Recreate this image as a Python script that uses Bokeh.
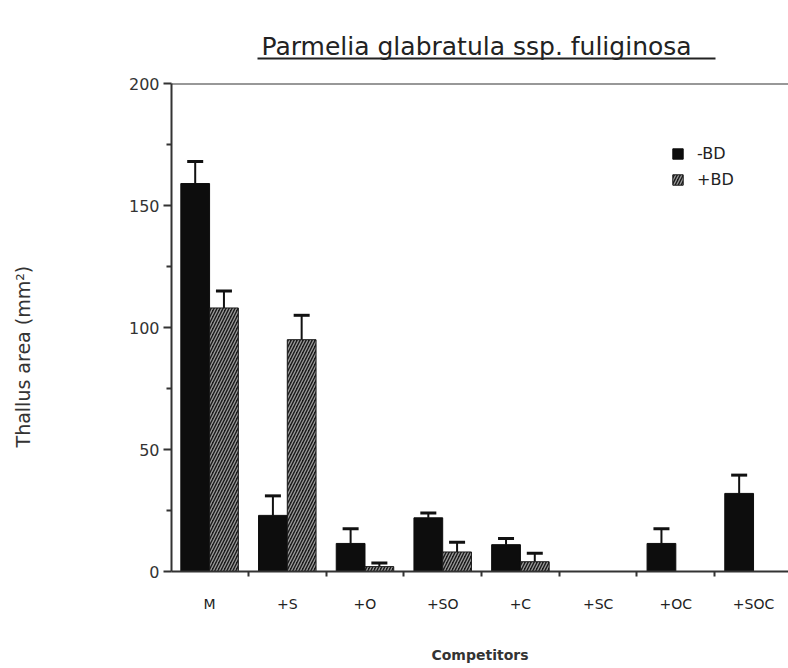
import numpy as np
from bokeh.plotting import figure
from bokeh.layouts import column, row
from bokeh.models import (Range1d, FixedTicker, ColumnDataSource, Whisker, TeeHead,
                          Span, Label, Legend, LegendItem)
from bokeh.embed import file_html
from bokeh.resources import INLINE

# ---- data ----
categories = ["M", "+S", "+O", "+SO", "+C", "+SC", "+OC", "+SOC"]
minus_bd = [159, 23, 11.5, 22, 11, 0, 11.5, 32]
minus_bd_err = [9, 8, 6, 2, 2.5, 0, 6, 7.5]
plus_bd = [108, 95, 2, 8, 4, 0, 0, 0]
plus_bd_err = [7, 10, 1.5, 4, 3.5, 0, 0, 0]
y_ticks = [0, 50, 100, 150, 200]
y_minor_ticks = [25, 75, 125, 175]
series_labels = ["-BD", "+BD"]
title_text = "Parmelia glabratula ssp. fuliginosa"
x_title = "Competitors"
y_title = "Thallus area (mm²)"

# ---- layout (canvas pixels) ----
W, H = 788, 668
TH = 70            # height of title strip
LW = 50            # width of y-label strip
FL, FT, FB = 171, 83, 571   # frame left / top / bottom in the full canvas
X0, X1 = 0.01, 7.95
Y0, Y1 = 0, 200
FONT = "DejaVu Sans"
INK = "#222222"


def strip(width, height, xr, yr):
    f = figure(width=width, height=height, x_range=xr, y_range=yr,
               output_backend="svg", toolbar_location=None,
               x_axis_type=None, y_axis_type=None,
               min_border_left=0, min_border_right=0, min_border_top=0,
               min_border_bottom=0)
    f.outline_line_color = None
    f.grid.visible = False
    return f


# ---------- title strip ----------
t = strip(W, TH, Range1d(0, W), Range1d(TH, 0))
tx_left, tx_right, t_base, t_under = 257, 715, 46, 58
t.add_layout(Label(x=tx_left + 4, y=t_base, text=title_text,
                   text_align="left", text_baseline="alphabetic",
                   text_font=FONT, text_font_size="25px", text_color=INK))
t.line(x=[tx_left, tx_right], y=[t_under, t_under], line_color=INK, line_width=2)

# ---------- y-label strip ----------
yl = strip(LW, H - TH, Range1d(0, LW), Range1d(H, TH))
yl.add_layout(Label(x=22, y=516, text=y_title, angle=np.pi / 2,
                    text_align="left", text_baseline="middle",
                    text_font=FONT, text_font_size="19px", text_color="#333333"))

# ---------- main chart ----------
p = figure(width=W - LW, height=H - TH, x_range=Range1d(X0, X1),
           y_range=Range1d(Y0, Y1),
           output_backend="svg", toolbar_location=None,
           min_border_left=FL - LW, min_border_right=0, min_border_top=FT - TH,
           min_border_bottom=H - FB)
p.outline_line_color = None
p.grid.visible = False
p.background_fill_color = "white"

idx = np.arange(len(categories))
offset, bw = 0.185, 0.37
xm = idx + 0.5 - offset
xp = idx + 0.5 + offset

src_m = ColumnDataSource(dict(x=xm, top=minus_bd))
src_p = ColumnDataSource(dict(x=xp, top=plus_bd))

r_m = p.vbar(x="x", top="top", width=bw, source=src_m, fill_color="#0d0d0d",
             line_color="#0d0d0d", line_width=1)
r_p = p.vbar(x="x", top="top", width=bw, source=src_p, fill_color="#1a1a1a",
             line_color="#1a1a1a", line_width=1, hatch_pattern="/",
             hatch_color="#9a9a9a", hatch_scale=6, hatch_weight=1.3)

# error bars (only where an error exists)
for xs, vals, errs in ((xm, minus_bd, minus_bd_err), (xp, plus_bd, plus_bd_err)):
    keep = [i for i in range(len(vals)) if errs[i] > 0]
    ws = ColumnDataSource(dict(base=[xs[i] for i in keep],
                               lower=[vals[i] for i in keep],
                               upper=[vals[i] + errs[i] for i in keep]))
    w = Whisker(base="base", lower="lower", upper="upper", source=ws,
                dimension="height", line_color="#111111", line_width=2,
                upper_head=TeeHead(size=16, line_color="#111111", line_width=3),
                lower_head=None)
    p.add_layout(w)

# top border line
p.add_layout(Span(location=Y1, dimension="width", line_color="#333333", line_width=2))

# y axis
ya = p.yaxis[0]
ya.ticker = FixedTicker(ticks=y_ticks, minor_ticks=y_minor_ticks)
ya.bounds = (Y0, Y1)
ya.axis_line_color = "#333333"
ya.axis_line_width = 2
ya.major_tick_in = 0
ya.major_tick_out = 8
ya.minor_tick_in = 0
ya.minor_tick_out = 5
ya.major_tick_line_color = "#333333"
ya.minor_tick_line_color = "#333333"
ya.major_tick_line_width = 2
ya.minor_tick_line_width = 2
ya.major_label_text_font = FONT
ya.major_label_text_font_size = "16px"
ya.major_label_text_color = "#333333"
ya.major_label_standoff = 4

# x axis
xa = p.xaxis[0]
xa.ticker = FixedTicker(ticks=[float(i) + 0.5 for i in idx],
                        minor_ticks=[float(i) for i in idx[1:]])
xa.major_label_overrides = {float(i) + 0.5: c for i, c in zip(idx, categories)}
xa.axis_line_color = "#333333"
xa.axis_line_width = 2
xa.major_tick_line_color = None
xa.minor_tick_in = 0
xa.minor_tick_out = 5
xa.minor_tick_line_color = "#333333"
xa.minor_tick_line_width = 2
xa.major_label_text_font = FONT
xa.major_label_text_font_size = "14px"
xa.major_label_text_color = "#222222"
xa.major_label_standoff = 18
xa.axis_label = x_title
xa.axis_label_text_font = FONT
xa.axis_label_text_font_size = "14px"
xa.axis_label_text_font_style = "bold"
xa.axis_label_text_color = "#333333"
xa.axis_label_standoff = 32

# legend
legend = Legend(items=[LegendItem(label=series_labels[0], renderers=[r_m]),
                       LegendItem(label=series_labels[1], renderers=[r_p])],
                location=(671 - FL, FB - 189), orientation="vertical")
legend.border_line_color = None
legend.background_fill_alpha = 0
legend.padding = 0
legend.margin = 0
legend.spacing = 7
legend.glyph_width = 13
legend.glyph_height = 13
legend.label_standoff = 13
legend.label_text_font = FONT
legend.label_text_font_size = "16px"
legend.label_text_color = INK
legend.label_height = 14
p.add_layout(legend)

layout = column(t, row(yl, p, spacing=0), spacing=0)
open("out.html", "w").write(file_html(layout, INLINE))
